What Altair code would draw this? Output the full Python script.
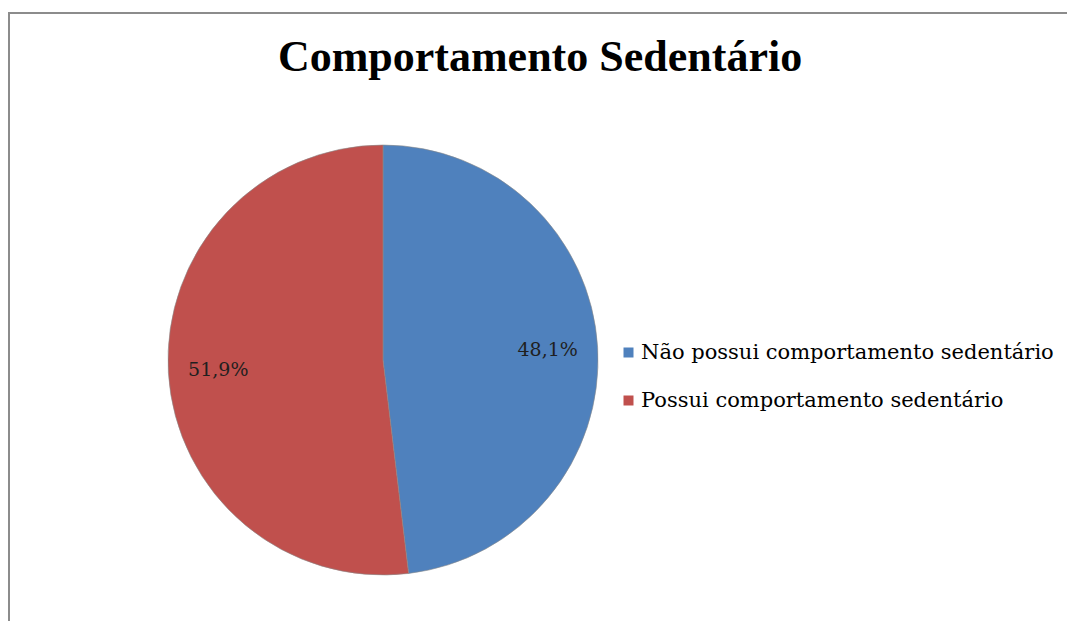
import altair as alt
import pandas as pd

categories = ["Não possui comportamento sedentário", "Possui comportamento sedentário"]
values = [48.1, 51.9]
labels = ["48,1%", "51,9%"]
colors = ["#4F81BD", "#C0504D"]
order = [0, 1]

df = pd.DataFrame({"cat": categories, "val": values, "lab": labels, "ord": order})

PAD_L, PAD_T = 0, 137
W, H = 750, 430
TOTAL_W, TOTAL_H = 1059, 613

base = alt.Chart(df).encode(
    theta=alt.Theta("val:Q", stack=True),
    order=alt.Order("ord:Q"),
)

pie = base.mark_arc(stroke="#8a8a8a", strokeWidth=0.6, outerRadius=215).encode(
    color=alt.Color(
        "cat:N",
        scale=alt.Scale(domain=categories, range=colors),
        legend=alt.Legend(
            title=None,
            orient="none",
            legendX=610,
            legendY=197,
            symbolType="square",
            symbolSize=100,
            symbolStrokeWidth=0,
            labelFont="DejaVu Serif",
            labelFontSize=21,
            labelColor="#000000",
            labelLimit=600,
            labelOffset=2,
            rowPadding=26,
            padding=0,
        ),
    )
)

text = base.mark_text(
    radius=165, font="DejaVu Serif", fontSize=19, color="#1f1f1f"
).encode(text="lab:N")

frame_df = pd.DataFrame({"k": [0]})
top_border = alt.Chart(frame_df).mark_rule(color="#8c8c8c", strokeWidth=2).encode(
    x=alt.value(0), x2=alt.value(TOTAL_W), y=alt.value(-PAD_T + 5)
)
left_border = alt.Chart(frame_df).mark_rule(color="#8c8c8c", strokeWidth=2).encode(
    x=alt.value(1), y=alt.value(-PAD_T + 4), y2=alt.value(TOTAL_H - PAD_T)
)

chart = (
    alt.layer(pie, text, top_border, left_border)
    .properties(
        width=W,
        height=H,
        padding={"left": PAD_L, "top": PAD_T, "right": TOTAL_W - W - PAD_L, "bottom": TOTAL_H - H - PAD_T},
        autosize=alt.AutoSizeParams(type="none"),
        background="white",
        title=alt.TitleParams(
            "Comportamento Sedentário",
            font="Liberation Serif",
            fontSize=44,
            fontWeight="bold",
            color="#000000",
            anchor="middle",
            baseline="alphabetic",
            offset=-104,
            dx=157,
        ),
    )
    .configure_view(strokeWidth=0, stroke=None)
)

chart.save("out.html", embed_options={"renderer": "svg", "actions": False})
